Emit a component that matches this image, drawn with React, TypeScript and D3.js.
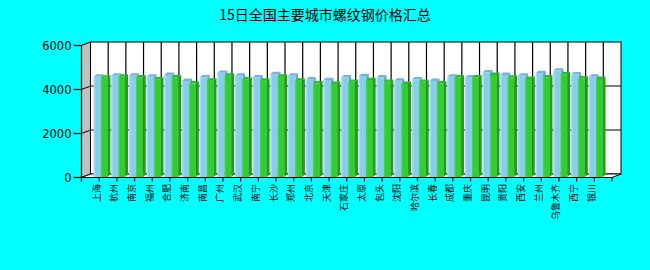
import React from "react";
import * as d3 from "d3";

const title = "15日全国主要城市螺纹钢价格汇总";
const cities = ["上海","杭州","南京","福州","合肥","济南","南昌","广州","武汉","南宁","长沙","郑州","北京","天津","石家庄","太原","包头","沈阳","哈尔滨","长春","成都","重庆","昆明","贵阳","西安","兰州","乌鲁木齐","西宁","银川"];
const seriesA = [4580,4630,4630,4580,4660,4390,4550,4760,4630,4550,4700,4630,4460,4430,4550,4610,4550,4400,4460,4390,4580,4550,4780,4660,4630,4740,4860,4690,4580];
const seriesB = [4540,4580,4550,4460,4550,4280,4400,4630,4460,4400,4580,4400,4280,4250,4350,4430,4350,4250,4350,4280,4550,4550,4660,4540,4480,4550,4690,4510,4480];
const yTicks = [0, 2000, 4000, 6000];

const W = 650, H = 270;
const DX = 9, DY = -3.5;     // wall depth
const BDX = 2.6, BDY = -2.4; // bar depth

export default function App() {
  const n = cities.length;
  const x = d3.scaleLinear().domain([-1, n]).range([81.5, 612]);
  const y = d3.scaleLinear().domain([0, 6000]).range([177.5, 45.5]);
  const x0 = x(-1), x1 = x(n), yTop = y(6000), yBot = y(0);
  const base = 177;

  const pts = (a: number[][]) => a.map(p => p.join(",")).join(" ");

  const bar = (key: string, l: number, r: number, v: number, front: string, top: string, side: string, hl: string) => {
    const t = y(v);
    return (
      <g key={key}>
        <polygon points={pts([[l, t], [l + BDX, t + BDY], [r + BDX, t + BDY], [r, t]])} fill={top} />
        <polygon points={pts([[r, t], [r + BDX, t + BDY], [r + BDX, base + BDY], [r, base]])} fill={side} />
        <rect x={l} y={t} width={r - l} height={base - t} fill={front} />
        <rect x={l} y={t} width={1.3} height={base - t} fill={hl} />
      </g>
    );
  };

  const gridK = d3.range(0, n);

  return (
    <svg width={W} height={H} style={{ position: "fixed", left: 0, top: 0, background: "#00ffff" }}>
      <rect x={0} y={0} width={W} height={H} fill="#00ffff" />
      <text x={325} y={16} textAnchor="middle" dominantBaseline="middle" fontFamily="'Noto Sans CJK SC', sans-serif" fontSize={14} fill="#000">{title}</text>

      {/* back wall */}
      <rect x={x0 + DX} y={yTop + DY} width={x1 - x0} height={yBot - yTop} fill="#ffffff" stroke="#000" strokeWidth={1} />
      {/* left wall */}
      <polygon points={pts([[x0, yTop], [x0 + DX, yTop + DY], [x0 + DX, yBot + DY], [x0, yBot]])} fill="#c0c0c0" stroke="#000" strokeWidth={1} />
      {/* floor */}
      <polygon points={pts([[x0, yBot], [x1, yBot], [x1 + DX, yBot + DY], [x0 + DX, yBot + DY]])} fill="#ffffff" stroke="#000" strokeWidth={1} />

      {/* gridlines */}
      {yTicks.filter(v => v > 0 && v < 6000).map(v => (
        <g key={"hg" + v}>
          <line x1={x0 + DX} x2={x1 + DX} y1={y(v) + DY} y2={y(v) + DY} stroke="#000" strokeWidth={1.2} />
          <line x1={x0} x2={x0 + DX} y1={y(v)} y2={y(v) + DY} stroke="#000" strokeWidth={1} />
        </g>
      ))}
      {gridK.map(k => (
        <line key={"vg" + k} x1={x(k) + DX} x2={x(k) + DX} y1={yTop + DY} y2={yBot + DY} stroke="#000" strokeWidth={1.2} />
      ))}

      {/* bars */}
      {cities.map((c, i) => {
        const cx = x(i);
        return (
          <g key={"b" + i}>
            {bar("a" + i, cx - 5.5, cx + 1.8, seriesA[i], "#87ceeb", "#79b3d2", "#6aa7c8", "#a6dcf2")}
            {bar("g" + i, cx + 1.8, cx + 8.6, seriesB[i], "#33cc33", "#2db82d", "#249a24", "#3fd63f")}
          </g>
        );
      })}

      {/* axes */}
      <line x1={x0} x2={x0} y1={yTop} y2={yBot} stroke="#000" strokeWidth={1.2} />
      <line x1={x0} x2={x1} y1={yBot} y2={yBot} stroke="#000" strokeWidth={1.2} />
      {yTicks.map(v => (
        <g key={"yt" + v}>
          <line x1={x0 - 8} x2={x0} y1={y(v)} y2={y(v)} stroke="#000" strokeWidth={1.2} />
          <text x={71.5} y={y(v)} textAnchor="end" dominantBaseline="central" fontFamily="'DejaVu Sans', sans-serif" fontSize={11.5} fill="#000">{v}</text>
        </g>
      ))}
      {d3.range(-1, n + 1).map(k => (
        <line key={"xt" + k} x1={x(k)} x2={x(k)} y1={yBot} y2={yBot + 4} stroke="#000" strokeWidth={1.2} />
      ))}
      {cities.map((c, i) => (
        <text key={"xl" + i} transform={`translate(${x(i) - 3},${184}) rotate(-90)`} textAnchor="end" dominantBaseline="central" fontFamily="'Noto Sans CJK SC', serif" fontSize={9} fill="#000">{c}</text>
      ))}
    </svg>
  );
}
